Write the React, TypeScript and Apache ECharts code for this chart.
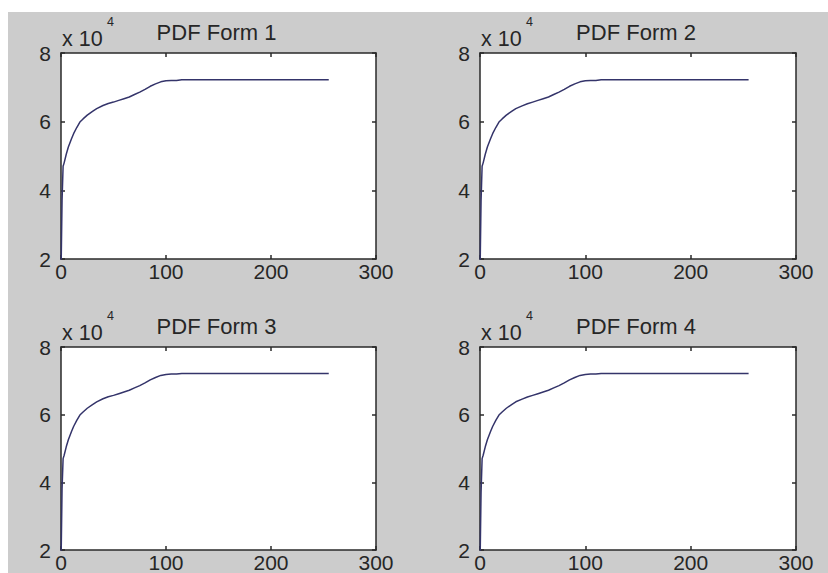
import React, { useEffect, useRef } from "react";
import * as echarts from "echarts";

// Cumulative histogram (x: gray level, y: count)
const xValues = [0, 1, 2, 3, 5, 7, 10, 12, 15, 18, 21, 25, 30, 34, 40, 45, 50, 55, 60, 65, 70, 75, 80, 85, 90, 95, 100, 105, 110, 115, 255];
const form1 = [15000, 37000, 47000, 48000, 50500, 52600, 55000, 56500, 58300, 59900, 60800, 61900, 63000, 63800, 64700, 65300, 65700, 66200, 66700, 67200, 67900, 68600, 69400, 70300, 71000, 71600, 71900, 72000, 72000, 72200, 72200];
const form2 = [15000, 37000, 47000, 48000, 50500, 52600, 55000, 56500, 58300, 59900, 60800, 61900, 63000, 63800, 64600, 65200, 65700, 66200, 66700, 67200, 67900, 68600, 69400, 70300, 71000, 71600, 71900, 72000, 72000, 72200, 72200];
const form3 = [15000, 38000, 47000, 48000, 50500, 52600, 55000, 56500, 58300, 59900, 60800, 61900, 63000, 63800, 64700, 65300, 65700, 66200, 66700, 67200, 67900, 68600, 69400, 70300, 71000, 71600, 71900, 72000, 72000, 72200, 72200];
const form4 = [15000, 37000, 47000, 48000, 50500, 52600, 55000, 56500, 58300, 59900, 60800, 61900, 63000, 63800, 64600, 65200, 65700, 66200, 66700, 67200, 67900, 68600, 69400, 70300, 71000, 71600, 71900, 72000, 72000, 72200, 72200];
const seriesValues = [form1, form2, form3, form4];
const titles = ["PDF Form 1", "PDF Form 2", "PDF Form 3", "PDF Form 4"];
const xTicks = { min: 0, max: 300, interval: 100 };
const yTicks = { min: 20000, max: 80000, interval: 20000 };

const FONT = "'Liberation Sans', Arial, sans-serif";
const TEXT = "#262626";
const AXIS = "#2a2a2a";

export default function App() {
  const ref = useRef<HTMLDivElement>(null);
  useEffect(() => {
    if (!ref.current) return;
    const chart = echarts.init(ref.current, undefined, { renderer: "svg" });
    const grids = [
      { left: 53, top: 41, width: 315, height: 206 },
      { left: 472, top: 41, width: 316, height: 206 },
      { left: 53, top: 335, width: 315, height: 205 },
      { left: 472, top: 335, width: 316, height: 205 },
    ];
    const lineStyle = { color: AXIS, width: 1.5 };
    const xAxes: any[] = [];
    const yAxes: any[] = [];
    grids.forEach((_, i) => {
      xAxes.push({
        type: "value", gridIndex: i, position: "bottom", ...xTicks,
        axisLine: { show: true, onZero: false, lineStyle },
        axisTick: { show: true, inside: true, length: 4, lineStyle },
        axisLabel: { show: true, color: TEXT, fontSize: 21, fontFamily: FONT, margin: 2 },
        splitLine: { show: false },
      });
      yAxes.push({
        type: "value", gridIndex: i, position: "left", ...yTicks,
        axisLine: { show: true, onZero: false, lineStyle },
        axisTick: { show: true, inside: true, length: 4, lineStyle },
        axisLabel: { show: true, color: TEXT, fontSize: 21, fontFamily: FONT, margin: 10, formatter: (v: number) => String(v / 10000) },
        splitLine: { show: false },
      });
    });
    grids.forEach((_, i) => {
      xAxes.push({
        type: "value", gridIndex: i, position: "top", ...xTicks,
        axisLine: { show: true, onZero: false, lineStyle },
        axisTick: { show: true, inside: true, length: 4, lineStyle },
        axisLabel: { show: false },
        splitLine: { show: false },
      });
      yAxes.push({
        type: "value", gridIndex: i, position: "right", ...yTicks,
        axisLine: { show: true, onZero: false, lineStyle },
        axisTick: { show: true, inside: true, length: 4, lineStyle },
        axisLabel: { show: false },
        splitLine: { show: false },
      });
    });
    const graphics: any[] = [];
    grids.forEach((g, i) => {
      const cx = g.left + g.width / 2 - 2;
      graphics.push({
        type: "text", x: cx, y: g.top - 21,
        style: { text: titles[i], textAlign: "center", textVerticalAlign: "middle", fontSize: 22, fontFamily: FONT, fill: TEXT },
      });
      graphics.push({
        type: "text", x: g.left + 1, y: g.top - 14,
        style: { text: "x 10", textAlign: "left", textVerticalAlign: "middle", fontSize: 21.5, fontFamily: FONT, fill: TEXT },
      });
      graphics.push({
        type: "text", x: g.left + 46, y: g.top - 31,
        style: { text: "4", textAlign: "left", textVerticalAlign: "middle", fontSize: 12.5, fontFamily: FONT, fill: TEXT },
      });
    });
    chart.setOption({
      animation: false,
      backgroundColor: "#cccccc",
      grid: grids.map((g) => ({ ...g, show: true, backgroundColor: "#ffffff", borderWidth: 0 })),
      xAxis: xAxes,
      yAxis: yAxes,
      series: seriesValues.map((vals, i) => ({
        type: "line",
        xAxisIndex: i,
        yAxisIndex: i,
        data: xValues.map((x, k) => [x, vals[k]]),
        showSymbol: false,
        symbol: "none",
        smooth: false,
        clip: true,
        lineStyle: { color: "#34346a", width: 1.5 },
        z: 1,
      })),
      graphic: graphics,
    });
    return () => chart.dispose();
  }, []);
  return (
    <div style={{ position: "fixed", left: 0, top: 0, width: 828, height: 573, background: "#ffffff" }}>
      <div ref={ref} style={{ position: "absolute", left: 8, top: 12, width: 820, height: 561 }} />
    </div>
  );
}
